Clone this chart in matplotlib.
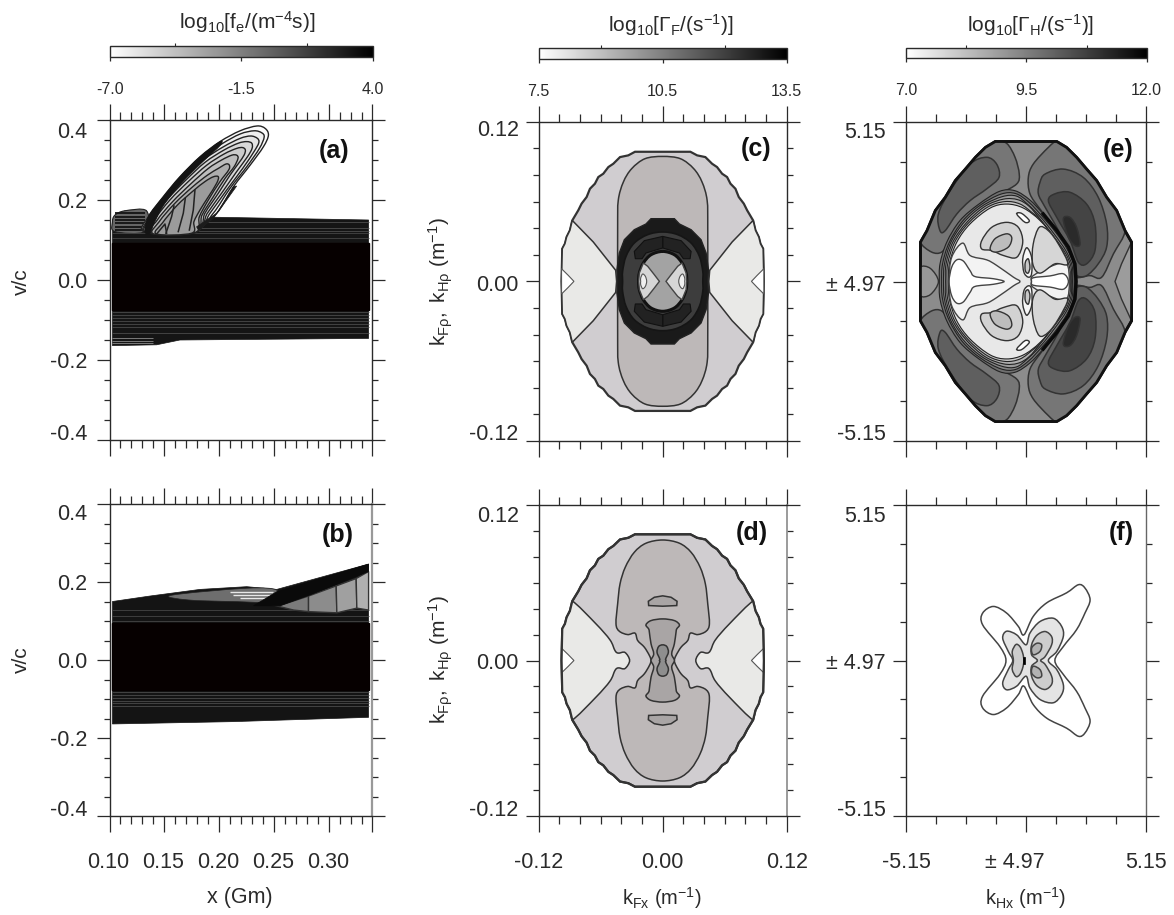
import numpy as np
import matplotlib
matplotlib.use('Agg')
from matplotlib import pyplot as plt
from matplotlib.cm import ScalarMappable
from matplotlib.colors import LinearSegmentedColormap, Normalize
from matplotlib.patches import PathPatch
from matplotlib.path import Path

plt.rcParams['font.family'] = ['Liberation Sans', 'DejaVu Sans']
plt.rcParams['mathtext.fontset'] = 'custom'
plt.rcParams['mathtext.rm'] = 'Liberation Sans'
plt.rcParams['mathtext.it'] = 'Liberation Sans:italic'
plt.rcParams['mathtext.bf'] = 'Liberation Sans:bold'
plt.rcParams['text.color'] = '#2a2a2a'

# colour bars
BAR_A = (-7.0, -1.5, 4.0)
BAR_C = (7.5, 10.5, 13.5)
BAR_E = (7.0, 9.5, 12.0)

# panel a, x in Gm and v/c
A_BAND = [(.1027, .150), (.1049, .162), (.114, .173), (.1337, .173), (.1322, .121), (.1793, .125),
          (.1945, .157), (.3359, .150), (.3359, -.146), (.1641, -.150), (.1429, -.162), (.1027, -.164)]
A_CORE = (.092, -.075)
A_SHOULDER = [(.1027, .145), (.1049, .162), (.114, .173), (.1337, .173), (.1322, .121), (.1049, .121)]
A_SHOULDER_LINES = [.167, .158, .150, .142, .133, .125]
A_TOP_LINES_LEFT = [.117, .104]
A_TOP_LINES = [.145, .130, .122]
A_BOTTOM_LINES = [-.081, -.088, -.095, -.103, -.110, -.118, -.133]
A_TAIL_LINES = [-.145, -.152, -.158]

A_BEAM = [
    [(.1322, .121), (.1353, .158), (.1489, .208), (.1641, .258), (.1824, .308), (.2006, .346), (.2189, .373),
     (.2341, .385), (.2417, .379), (.2447, .362), (.2401, .333), (.228, .287), (.2128, .233), (.1976, .167), (.1793, .133)],
    [(.1331, .119), (.1368, .158), (.1505, .208), (.1657, .256), (.1839, .305), (.2021, .340), (.2189, .365),
     (.2316, .373), (.2386, .368), (.2408, .357), (.2365, .329), (.2249, .283), (.2097, .229), (.1945, .167), (.1793, .129)],
    [(.1337, .119), (.1383, .157), (.152, .207), (.1678, .254), (.1854, .300), (.2037, .333), (.2189, .354),
     (.2286, .360), (.2347, .354), (.2359, .343), (.2316, .321), (.2213, .279), (.2067, .225), (.1915, .167), (.1793, .125)],
    [(.1353, .118), (.1398, .154), (.1535, .204), (.1696, .250), (.1869, .294), (.2043, .325), (.2173, .342),
     (.2249, .346), (.2295, .342), (.2298, .329), (.2256, .308), (.2158, .271), (.2031, .221), (.1891, .167), (.1793, .123)],
    [(.1368, .117), (.1413, .152), (.155, .200), (.1717, .246), (.1885, .287), (.2043, .315), (.2158, .329),
     (.2213, .331), (.2237, .325), (.2225, .312), (.2176, .292), (.2097, .262), (.1991, .217), (.1869, .167), (.1793, .121)],
    [(.1383, .117), (.1435, .150), (.1575, .196), (.1739, .240), (.19, .279), (.2021, .300), (.2113, .312),
     (.2158, .312), (.2170, .304), (.2134, .283), (.2052, .254), (.1945, .208), (.1842, .162), (.1787, .119)],
    [(.1404, .115), (.1453, .146), (.1596, .192), (.1757, .233), (.1891, .262), (.1991, .279), (.2061, .290),
     (.2091, .287), (.2085, .275), (.2006, .246), (.19, .200), (.1818, .158), (.1781, .119)],
    [(.1429, .115), (.1483, .143), (.1617, .187), (.1763, .223), (.1869, .246), (.1945, .258), (.1991, .258),
     (.1976, .242), (.19, .208), (.1824, .175), (.1769, .146), (.1748, .117)],
]
A_BEAM_GREYS = ['#fbfbfb', '#f0f0f0', '#e4e4e4', '#d8d8d8', '#cbcbcb', '#bdbdbd', '#adadad', '#9b9b9b']
A_WEDGE_UP = [(.1322, .121), (.1353, .158), (.1489, .208), (.1641, .258), (.1824, .308), (.2006, .346),
              (.2006, .336), (.1854, .297), (.1672, .247), (.1505, .192), (.1413, .146), (.1368, .117)]
A_WEDGE_LOW = [(.2128, .233), (.1976, .167), (.1793, .133), (.1809, .125), (.1945, .154), (.2067, .2), (.2158, .235)]
A_INNER = [
    [(.1778, .225), (.1763, .175), (.1727, .125)],
    [(.169, .204), (.1672, .167), (.1626, .121)],
    [(.1587, .185), (.1565, .158), (.1514, .117)],
    [(.1429, .115), (.1505, .140), (.152, .117)],
]

# panel b
B_BAND = [(.1027, .150), (.1368, .164), (.1824, .181), (.225, .188), (.2523, .181), (.3359, .246),
          (.3359, -.147), (.2128, -.158), (.1027, -.164)]
B_CORE = (.094, -.077)
B_TOP_LINES = [.128, .113, .100]
B_BOTTOM_LINES = [-.083, -.090, -.097, -.104, -.111, -.118]
B_PATCH = [(.1565, .166), (.225, .184), (.2523, .179), (.2432, .150), (.2128, .150), (.1717, .154)]
B_PATCH_LINES = [(.175, .2097, .2493), (.167, .2128, .2462), (.158, .2189, .2432)]
B_WEDGE = [(.2311, .139), (.2523, .175), (.3359, .246), (.3359, .227), (.2827, .167), (.2552, .139)]
B_STEPS = [
    [(.2432, .145), (.2553, .140), (.2812, .164), (.2812, .124), (.2677, .128)],
    [(.2812, .164), (.3064, .190), (.307, .121), (.2812, .124)],
    [(.3064, .190), (.3246, .209), (.3252, .133), (.307, .121)],
    [(.3246, .209), (.3359, .227), (.3359, .128), (.3252, .133)],
]
B_STEP_GREYS = ['#7b7b7b', '#8c8c8c', '#a0a0a0', '#b0b0b0']

# panels c and d, k in 1/m. quadrants are read once, the pattern is symmetric
KF_OUTER = [(0, .0974), (.0268, .0974), (.0333, .0947), (.0413, .0934), (.0478, .0884), (.0526, .0859), (.0575, .0809),
            (.0623, .0784), (.0656, .0734), (.0704, .0696), (.0736, .0634), (.0785, .0584), (.0817, .0534),
            (.0875, .0458), (.0898, .0383), (.093, .0333), (.0946, .0283), (.0972, .0245), (.0979, 0)]
KF_NOTCH = [(.0859, 0), (.0914, .0045), (.0979, .0095)]
C_SIDE = [(.0446, 0), (.0455, .0083), (.0672, .0296), (.0875, .0458), (.0898, .0383), (.093, .0333),
          (.0946, .0283), (.0972, .0245), (.0979, 0)]
C_LOBE = [(0, .0939), (.0171, .0922), (.03, .0847), (.0381, .0746), (.043, .0609), (.0436, .0408), (.0436, 0)]
C_RING_OUTER = [(0, .0471), (.0113, .0471), (.0162, .0431), (.0275, .0388), (.0371, .0313), (.042, .0213), (.0443, .0088), (.0436, 0)]
C_RING_MID = [(0, .0371), (.0145, .0351), (.0275, .0288), (.0355, .0188), (.0388, .0075), (.0388, 0)]
C_CRESCENT = [(0, .0338), (.0178, .0306), (.0275, .0225), (.0265, .017), (.02, .017), (.0162, .0213), (0, .0251)]
C_HOLE = [(0, .0225), (.0113, .02), (.0187, .0138), (.0226, .0063), (.0233, 0)]
C_HOLE_SIDE = [(.0032, 0), (.0081, .005), (.0145, .0113), (.0187, .0138), (.0226, .0063), (.0233, 0)]
C_HOLE_SPOT = [(.0155, 0), (.0168, .0038), (.0194, .0055), (.0213, .0025), (.0213, 0)]

D_SIDE = [(.032, 0), (.0365, .0062), (.043, .0057), (.0462, .0077), (.051, .0159), (.0646, .0283), (.0875, .0458),
          (.0898, .0383), (.093, .0333), (.0946, .0283), (.0972, .0245), (.0979, 0)]
D_LOBE = [(0, .093), (.0162, .0905), (.0275, .0835), (.0362, .072), (.0413, .0591), (.0436, .0437), (.0452, .0283),
          (.042, .0226), (.0339, .02), (.0268, .0211), (.0242, .0154), (.0178, .0103), (.0129, .0039), (.0113, 0)]
D_INNER = [(0, .0321), (.0113, .0308), (.0162, .0275), (.0136, .0244), (.0129, .0218), (.0113, .0129), (.0087, .0051), (.0113, 0)]
D_CORE = [(0, .0121), (.0039, .0108), (.0055, .0064), (.0029, .0013), (.0032, 0)]
D_CAP = [(0, .0499), (.0081, .0488), (.0139, .0457), (.0136, .0424), (0, .0419)]

# panels e and f, offset from the +-4.97 centre
E_OUTER = [(0, 4.52), (1.32, 4.52), (1.74, 4.33), (2.17, 4.01), (2.6, 3.63), (3.03, 3.26), (3.46, 2.72),
           (3.89, 2.29), (4.25, 1.64), (4.53, 1.27), (4.53, 0)]
E_L1 = [(-4.53, 1.27), (-4.25, 1.64), (-3.89, 2.29), (-3.46, 2.72), (-3.03, 3.26), (-2.6, 3.63), (-2.17, 4.01), (-1.74, 4.33),
        (-1.32, 4.52), (-.83, 4.46), (-.47, 4.01), (-.29, 3.47), (-.40, 3.15), (-1.12, 2.83), (-2.12, 2.40), (-2.83, 1.86),
        (-3.26, 1.32), (-3.62, .95), (-4.05, .95)]
E_L2 = [(-3.76, 2.18), (-3.26, 2.93), (-2.40, 3.79), (-1.69, 4.01), (-1.26, 3.79), (-1.16, 3.36), (-1.69, 2.99), (-2.40, 2.61),
        (-2.97, 2.18), (-3.47, 1.64), (-3.69, 1.64)]
E_LEFT_CENTRE = [(-4.53, 0), (-4.53, .46), (-4.1, .42), (-3.76, 0)]
E_RIGHT_CENTRE = [(3.82, 0), (4.10, .57), (4.53, 1.27), (4.53, 0)]
E_R1 = [(1.32, 4.52), (1.74, 4.33), (2.17, 4.01), (2.6, 3.63), (3.03, 3.26), (3.46, 2.72), (3.89, 2.29), (4.25, 1.64), (3.75, .89),
        (3.25, .14), (2.75, .19), (2.03, .19), (1.82, 1.11), (1.32, 1.65), (.60, 2.34), (.17, 2.83), (.10, 3.36), (.31, 3.79), (.96, 4.33)]
E_R2 = [(.60, 3.20), (.82, 3.47), (1.60, 3.63), (2.46, 3.36), (3.10, 2.72), (3.46, 1.86), (3.46, 1.11), (3.10, .57), (2.60, .19),
        (2.17, .19), (2.03, .46), (1.46, 1.54), (.82, 2.40), (.53, 2.83)]
E_R3 = [(.96, 2.61), (1.24, 2.83), (1.89, 2.88), (2.60, 2.50), (2.96, 1.86), (2.96, 1.0), (2.60, .57), (2.25, .62), (1.89, 1.32), (1.32, 2.07)]
E_R4 = [(1.60, 2.02), (1.89, 2.07), (2.17, 1.75), (2.32, 1.21), (2.10, 1.16), (1.82, 1.43)]
E_RINGS = [
    [(-3.72, 0), (-3.69, .57), (-3.40, 1.27), (-2.83, 1.97), (-2.04, 2.49), (-1.14, 2.91), (-.47, 2.93), (.17, 2.63), (.74, 2.18), (1.32, 1.65), (1.82, 1.11), (2.1, .57), (2.15, 0)],
    [(-3.62, 0), (-3.58, .57), (-3.3, 1.25), (-2.72, 1.95), (-1.95, 2.47), (-1.08, 2.82), (-.45, 2.84), (.12, 2.56), (.7, 2.1), (1.26, 1.6), (1.76, 1.05), (2.03, .55), (2.07, 0)],
    [(-3.54, 0), (-3.5, .57), (-3.22, 1.27), (-2.64, 1.93), (-1.85, 2.45), (-1.02, 2.74), (-.42, 2.76), (.06, 2.5), (.66, 2.05), (1.22, 1.52), (1.72, .98), (1.98, .5), (2.0, 0)],
    [(-3.46, 0), (-3.43, .57), (-3.14, 1.27), (-2.55, 1.9), (-1.75, 2.43), (-.96, 2.66), (-.35, 2.64), (.13, 2.43), (.62, 2.0), (1.18, 1.46), (1.69, .92), (1.93, .47), (1.96, 0)],
    [(-3.39, 0), (-3.36, .57), (-3.06, 1.27), (-2.48, 1.88), (-1.65, 2.4), (-.9, 2.58), (-.25, 2.5), (.3, 2.2), (.6, 2.0), (1.2, 1.42), (1.67, .85), (1.88, .42), (1.9, 0)],
    [(-3.32, 0), (-3.29, .57), (-2.97, 1.27), (-2.40, 1.86), (-1.54, 2.37), (-.83, 2.5), (-.11, 2.37), (.60, 1.97), (1.24, 1.38), (1.67, .78), (1.86, 0)],
]
E_RING_GREYS = ['#707070', '#858585', '#9a9a9a', '#b0b0b0', '#c8c8c8', '#e8e8e8']
E_RING_DARK = [(.74, 2.18), (1.32, 1.65), (1.82, 1.11), (2.1, .57), (2.15, 0)]
E_LEFT_LIGHT = [(-3.30, 0), (-3.19, .78), (-2.72, 1.24), (-2.40, .84), (-1.69, .70), (-1.26, .52), (-.54, .14), (-.26, 0)]
E_LEFT_WHITE = [(-3.30, 0), (-3.19, .46), (-2.97, .70), (-2.69, .66), (-2.40, .35), (-2.19, .16), (-1.40, .09), (-.94, 0)]
E_RIGHT_LIGHT = [(.24, 0), (.31, .19), (1.17, .52), (1.74, .57), (1.86, 0)]
E_RIGHT_WHITE = [(.24, 0), (.31, .12), (1.03, .18), (1.60, .25), (1.82, 0)]
E_BLOB = [(-1.90, 1.32), (-1.47, 1.75), (-.83, 1.91), (-.33, 1.75), (-.14, 1.27), (-.40, .78), (-.97, .84), (-1.47, 1.0), (-1.90, 1.05)]
E_BLOB_CORE = [(-1.54, 1.05), (-1.33, 1.38), (-.83, 1.54), (-.61, 1.41), (-.76, 1.11), (-1.26, .95)]
E_RIGHT_GREY = [(.57, 1.75), (.31, 1.21), (.29, .57), (.60, .27), (1.24, .57), (1.79, .57), (1.39, 1.21), (.96, 1.64)]
E_LOOP = [(-.14, .73), (.03, 1.09), (.24, .78), (.24, .25), (.10, .14), (-.09, .30)]
E_LOOP_IN = [(-.03, .62), (.10, .73), (.17, .46), (.09, .27), (-.03, .35)]
E_SPOT = [(-.40, 2.18), (-.19, 2.20), (.14, 1.97), (-.04, 1.91)]

F_OUTER = [(-.86, 0), (-1.12, .46), (-1.86, 1.18), (-1.86, 1.57), (-1.40, 1.79), (-.83, 1.57), (-.33, 1.13), (-.09, .85), (.31, 1.46),
           (.89, 1.91), (1.74, 2.24), (2.25, 2.51), (2.53, 2.40), (2.75, 2.01), (2.53, 1.57), (2.17, 1.02), (1.60, .46), (1.24, 0)]
F_SECOND = [(-.57, 0), (-.76, .30), (-1.0, .74), (-.83, .97), (-.40, .85), (0, .52), (.17, .91), (.60, 1.29), (1.17, 1.40),
            (1.53, 1.13), (1.60, .79), (1.32, .30), (.96, 0)]
F_THIRD_LEFT = [(-.54, 0), (-.59, .30), (-.43, .53), (-.26, .46), (-.14, .24), (-.09, 0)]
F_THIRD_RIGHT = [(.49, 0), (.24, .19), (.24, .52), (.46, .83), (.82, .96), (1.10, .79), (1.10, .52), (.82, .13), (.63, 0)]
F_FOURTH = [(.24, .41), (.46, .57), (.67, .52), (.60, .30), (.31, .19)]
F_DOT = [(-.14, .11), (-.04, .11), (-.04, -.11), (-.14, -.11)]

W, H = 1174, 915
fig = plt.figure(figsize=(W / 100, H / 100), dpi=100)
INK = '#2a2a2a'


def new_axes(left, right, top, bottom):
    return fig.add_axes([left / W, 1 - bottom / H, (right - left) / W, (bottom - top) / H])


def half_y(pts):
    return list(pts) + [(x, -y) for x, y in reversed(pts)]


def flip_x(pts):
    return [(-x, y) for x, y in pts]


def flip_y(pts):
    return [(x, -y) for x, y in pts]


def four(quad):
    right = half_y(quad)
    return right + [(-x, y) for x, y in reversed(right)]


def both_sides(pts):
    # top half of a shape sitting on the x axis, drawn left and right
    return [half_y(pts), flip_x(half_y(pts))]


def curve_path(pts):
    keep = [pts[0]]
    for p in pts[1:]:
        if p != keep[-1]:
            keep.append(p)
    if keep[-1] == keep[0]:
        keep.pop()
    p = np.array(keep, dtype=float)
    n = len(p)
    verts = [p[0]]
    codes = [Path.MOVETO]
    for i in range(n):
        p0, p1, p2, p3 = p[i - 1], p[i], p[(i + 1) % n], p[(i + 2) % n]
        verts += [p1 + (p2 - p0) / 6, p2 - (p3 - p1) / 6, p2]
        codes += [Path.CURVE4] * 3
    return Path(verts, codes)


def shape(ax, pts, face, edge='#333333', lw=1.2, zorder=2, round=False, clip=None):
    if round:
        path = curve_path(pts)
    else:
        path = Path(list(pts) + [pts[0]], closed=True)
    patch = PathPatch(path, facecolor=face, edgecolor=edge, lw=lw, zorder=zorder)
    ax.add_patch(patch)
    if clip is not None:
        patch.set_clip_path(clip)
    return patch


def line(ax, pts, color='#222222', lw=1.0, zorder=3):
    ax.plot(*zip(*pts), color=color, lw=lw, zorder=zorder)


def style_axes(ax, xlim, ylim, xmajor, xminor, ymajor, yminor, right_color=INK, right_lw=1.0):
    ax.set_xlim(*xlim)
    ax.set_ylim(*ylim)
    ax.set_xticks(xmajor)
    ax.set_xticks(xminor, minor=True)
    ax.set_yticks(ymajor)
    ax.set_yticks(yminor, minor=True)
    ax.tick_params(which='both', top=True, right=True, labelleft=False, labelbottom=False, color=INK, width=0.9)
    ax.tick_params(axis='x', which='major', length=11.5)
    ax.tick_params(axis='x', which='minor', length=6)
    ax.tick_params(axis='y', which='major', length=9.5)
    ax.tick_params(axis='y', which='minor', length=4.3)
    for side in ax.spines.values():
        side.set_color(INK)
        side.set_linewidth(1.0)
        side.set_zorder(10)
    ax.spines['right'].set_color(right_color)
    ax.spines['right'].set_linewidth(right_lw)


def y_text(ax, val, txt, dy, dx=20):
    ax.annotate(txt, xy=(0, val), xycoords=ax.get_yaxis_transform(), xytext=(-dx, -dy), textcoords='offset pixels',
                ha='right', va='center', fontsize=15.5)


def x_text(ax, val, txt, dx=0):
    ax.annotate(txt, xy=(val, 0), xycoords=ax.get_xaxis_transform(), xytext=(dx, -47), textcoords='offset pixels',
                ha='center', va='center', fontsize=15.5)


def add_bar(left, right, top, bottom, vals, title, title_x, title_y):
    cax = new_axes(left, right, top, bottom)
    cmap = LinearSegmentedColormap.from_list('bar', ['#ffffff', '#000000'])
    sm = ScalarMappable(norm=Normalize(vals[0], vals[2]), cmap=cmap)
    cbar = fig.colorbar(sm, cax=cax, orientation='horizontal')
    cbar.outline.set_linewidth(1.0)
    cbar.outline.set_edgecolor(INK)
    cbar.set_ticks(list(vals))
    cbar.set_ticklabels(['%.1f' % v for v in vals])
    cax.tick_params(which='major', length=3, width=0.9, labelsize=11.5, pad=15, color=INK, labelcolor=INK)
    cax.set_xticks([(vals[0] + vals[1]) / 2, (vals[1] + vals[2]) / 2], minor=True)
    cax.tick_params(which='minor', length=2, width=0.8, top=True, bottom=False, color=INK)
    fig.text(title_x / W, 1 - title_y / H, title, ha='center', va='center', fontsize=15)


def bold_tag(ax, x, y, txt):
    ax.text(x, y, txt, transform=ax.transAxes, ha='center', va='center', fontsize=18, fontweight='bold', color='#111111', zorder=12)


x_major = [.10, .15, .20, .25, .30, .339]
x_minor = np.arange(.10, .335, .01)
v_major = [-.4, -.2, 0, .2, .4]
v_minor = np.arange(-.4, .41, .05)
kf_major = [-.12, 0, .12]
kf_minor = np.arange(-.12, .121, .02)
kh_major = [-5.15, 0, 5.15]
kh_minor = np.arange(-5.15, 5.16, 1.2875)
ylabel_k = r'$\mathrm{k_{F\rho},\ k_{H\rho}\ (m^{-1})}$'

# panel a
ax = new_axes(109.5, 372, 120, 440)
style_axes(ax, (.10, .339), (-.4, .4), x_major, x_minor, v_major, v_minor)
shape(ax, A_BAND, '#151515', edge='#151515', lw=0.5)
ax.axhspan(A_CORE[1], A_CORE[0], xmin=(.1027 - .10) / .239, xmax=(.3359 - .10) / .239, color='#060000', zorder=3)
shape(ax, A_SHOULDER, '#666666', edge='#222222', lw=0.8, zorder=3, round=True)
ax.hlines(A_SHOULDER_LINES, .1049, .1325, colors='#141414', lw=1.3, zorder=4)
ax.hlines(A_TOP_LINES, .18, .3359, colors='#4c4c4c', lw=0.6, zorder=4)
ax.hlines(A_TOP_LINES_LEFT, .1027, .3359, colors='#464646', lw=0.6, zorder=4)
ax.hlines(A_BOTTOM_LINES, .1027, .3359, colors='#4a4a4a', lw=0.6, zorder=4)
ax.hlines(A_TAIL_LINES, .1027, .14, colors='#8a8a8a', lw=0.6, zorder=4)
for pts, grey in zip(A_BEAM, A_BEAM_GREYS):
    shape(ax, pts, grey, edge='#222222', lw=1.0, zorder=5, round=True)
shape(ax, A_WEDGE_UP, '#141414', edge='#141414', lw=0.5, zorder=6, round=True)
shape(ax, A_WEDGE_LOW, '#1c1c1c', edge='#1c1c1c', lw=0.5, zorder=6)
for pts in A_INNER:
    line(ax, pts, lw=1.1, zorder=6)
for val, txt, dy in [(.4, '0.4', 12), (.2, '0.2', 2), (0, '0.0', 3), (-.2, '-0.2', 3), (-.4, '-0.4', -6)]:
    y_text(ax, val, txt, dy, dx=22)
fig.text(21 / W, 1 - 282 / H, 'v/c', rotation=90, ha='center', va='center', fontsize=15)
bold_tag(ax, .855, .903, '(a)')

# panel b
ax = new_axes(109.5, 372, 504, 816)
style_axes(ax, (.10, .339), (-.4, .4), x_major, x_minor, v_major, v_minor, right_color='#999999', right_lw=1.6)
shape(ax, B_BAND, '#141414', edge='#141414', lw=0.5)
ax.axhspan(B_CORE[1], B_CORE[0], xmin=(.1027 - .10) / .239, xmax=(.3359 - .10) / .239, color='#060000', zorder=3)
ax.hlines(B_TOP_LINES, .1027, .3359, colors='#464646', lw=0.6, zorder=4)
ax.hlines(B_BOTTOM_LINES, .1027, .3359, colors='#4a4a4a', lw=0.6, zorder=4)
shape(ax, B_PATCH, '#6e6e6e', edge='#222222', lw=0.5, zorder=4, round=True)
for y, x0, x1 in B_PATCH_LINES:
    ax.hlines(y, x0, x1, colors='#e8e8e8', lw=1.0, zorder=5)
for pts, grey in zip(B_STEPS, B_STEP_GREYS):
    shape(ax, pts, grey, edge='#333333', lw=1.0, zorder=5)
shape(ax, B_WEDGE, '#0a0a0a', edge='#0a0a0a', lw=0.5, zorder=6)
for val, txt, dy in [(.4, '0.4', 11), (.2, '0.2', 2), (0, '0.0', 2), (-.2, '-0.2', 3), (-.4, '-0.4', -6)]:
    y_text(ax, val, txt, dy, dx=22)
for val, txt in zip(x_major[:5], ['0.10', '0.15', '0.20', '0.25', '0.30']):
    x_text(ax, val, txt, dx=-1)
fig.text(21 / W, 1 - 660 / H, 'v/c', rotation=90, ha='center', va='center', fontsize=15)
fig.text(240 / W, 1 - 897 / H, 'x (Gm)', ha='center', va='center', fontsize=15.5)
bold_tag(ax, .870, .90, '(b)')

# panel c
ax = new_axes(538.7, 786.7, 121.7, 441)
style_axes(ax, (-.12, .12), (-.12, .12), kf_major, kf_minor, kf_major, kf_minor)
shape(ax, four(KF_OUTER), '#d0cdd0', edge='#333333', lw=1.6)
for pts in both_sides(C_SIDE):
    shape(ax, pts, '#e9e9e7', lw=1.1)
for pts in both_sides(KF_NOTCH):
    shape(ax, pts, '#ffffff', edge='#555555', lw=0.8)
shape(ax, four(C_LOBE), '#bdb8b8', lw=1.1, round=True)
shape(ax, four(C_RING_OUTER), '#1a1a1a', edge='#222222', lw=1.0, zorder=3)
shape(ax, four(C_RING_MID), '#3d3d3d', edge='#151515', lw=1.2, zorder=3, round=True)
for pts in [C_CRESCENT, flip_x(C_CRESCENT), flip_y(C_CRESCENT), flip_y(flip_x(C_CRESCENT))]:
    shape(ax, pts, '#222222', edge='#111111', lw=0.8, zorder=4)
shape(ax, four(C_HOLE), '#a3a3a3', edge='#111111', lw=2.2, zorder=4, round=True)
for pts in both_sides(C_HOLE_SIDE):
    shape(ax, pts, '#d6d6d6', edge='#444444', lw=1.0, zorder=5)
for pts in both_sides(C_HOLE_SPOT):
    shape(ax, pts, '#f0f0f0', edge='#555555', lw=0.8, zorder=5, round=True)
for val, txt, dy in [(.12, '0.12', 9), (0, '0.00', 4), (-.12, '-0.12', -6)]:
    y_text(ax, val, txt, dy)
fig.text(441 / W, 1 - 282 / H, ylabel_k, rotation=90, ha='center', va='center', fontsize=15)
bold_tag(ax, .876, .914, '(c)')

# panel d
ax = new_axes(538.7, 786.7, 505, 816)
style_axes(ax, (-.12, .12), (-.12, .12), kf_major, kf_minor, kf_major, kf_minor, right_color='#8a8a8a', right_lw=1.2)
outer = shape(ax, four(KF_OUTER), '#d0cdd0', edge='#333333', lw=1.6)
for pts in both_sides(D_SIDE):
    shape(ax, pts, '#e9e9e7', lw=1.1, round=True, clip=outer)
for pts in both_sides(KF_NOTCH):
    shape(ax, pts, '#ffffff', edge='#555555', lw=0.8)
shape(ax, four(D_LOBE), '#bdb8b8', lw=1.1, zorder=3, round=True)
shape(ax, four(D_INNER), '#a9a5a5', lw=1.1, zorder=4, round=True)
shape(ax, four(D_CORE), '#8e8e8e', lw=1.1, zorder=5, round=True)
shape(ax, D_CAP + [(-x, y) for x, y in reversed(D_CAP)], '#a9a5a5', lw=1.1, zorder=4)
shape(ax, flip_y(D_CAP) + [(-x, -y) for x, y in reversed(D_CAP)], '#a9a5a5', lw=1.1, zorder=4)
shape(ax, four(KF_OUTER), 'none', edge='#333333', lw=1.6, zorder=6)
for val, txt, dy in [(.12, '0.12', 11), (0, '0.00', 3), (-.12, '-0.12', -6)]:
    y_text(ax, val, txt, dy)
for val, txt in zip(kf_major, ['-0.12', '0.00', '0.12']):
    x_text(ax, val, txt)
fig.text(441 / W, 1 - 660 / H, ylabel_k, rotation=90, ha='center', va='center', fontsize=15)
fig.text(662 / W, 1 - 898 / H, r'$\mathrm{k_{Fx}\ (m^{-1})}$', ha='center', va='center', fontsize=14.5)
bold_tag(ax, .86, .91, '(d)')

# panel e
ax = new_axes(906, 1146, 122, 441)
style_axes(ax, (-5.15, 5.15), (-5.15, 5.15), kh_major, kh_minor, kh_major, kh_minor)
outer = shape(ax, four(E_OUTER), '#8c8c8c', edge='#111111', lw=2.0, zorder=2)
for pts in [E_L1, E_R1]:
    shape(ax, pts, '#767676', lw=1.1, round=True, clip=outer)
    shape(ax, flip_y(pts), '#767676', lw=1.1, round=True, clip=outer)
shape(ax, half_y(E_LEFT_CENTRE), '#989898', lw=1.0, round=True, clip=outer)
shape(ax, half_y(E_RIGHT_CENTRE), '#9c9c9c', lw=1.0, clip=outer)
for pts, grey in [(E_L2, '#5f5f5f'), (E_R2, '#5f5f5f'), (E_R3, '#444444'), (E_R4, '#2a2a2a')]:
    shape(ax, pts, grey, lw=1.1, zorder=3, round=True)
    shape(ax, flip_y(pts), grey, lw=1.1, zorder=3, round=True)
for pts, grey in zip(E_RINGS, E_RING_GREYS):
    shape(ax, half_y(pts), grey, edge='#222222', lw=0.8, zorder=4, round=True)
line(ax, half_y(E_RING_DARK), color='#0a0a0a', lw=2.5, zorder=5)
for pts, grey in [(E_LEFT_LIGHT, '#f3f3f3'), (E_LEFT_WHITE, '#ffffff'), (E_RIGHT_LIGHT, '#f3f3f3'), (E_RIGHT_WHITE, '#ffffff')]:
    shape(ax, half_y(pts), grey, edge='#444444', lw=1.0, zorder=5, round=True)
for pts, grey in [(E_BLOB, '#d2d2d2'), (E_BLOB_CORE, '#bdbdbd'), (E_RIGHT_GREY, '#d6d6d6'), (E_LOOP, '#f6f6f6'),
                  (E_LOOP_IN, '#c8c8c8'), (E_SPOT, '#ffffff')]:
    shape(ax, pts, grey, edge='#333333', lw=1.0, zorder=6, round=True)
    shape(ax, flip_y(pts), grey, edge='#333333', lw=1.0, zorder=6, round=True)
shape(ax, four(E_OUTER), 'none', edge='#111111', lw=2.0, zorder=7)
for val, txt, dy in [(5.15, '5.15', 11), (0, '± 4.97', 4), (-5.15, '-5.15', -6)]:
    y_text(ax, val, txt, dy)
bold_tag(ax, .883, .912, '(e)')

# panel f
ax = new_axes(906, 1146, 505, 816)
style_axes(ax, (-5.15, 5.15), (-5.15, 5.15), kh_major, kh_minor, kh_major, kh_minor, right_color='#666666')
shape(ax, half_y(F_OUTER), '#ffffff', edge='#444444', lw=1.1, round=True)
shape(ax, half_y(F_SECOND), '#e4e4e4', edge='#444444', lw=1.1, round=True)
shape(ax, half_y(F_THIRD_LEFT), '#cdcdcd', edge='#444444', lw=1.1, round=True)
shape(ax, half_y(F_THIRD_RIGHT), '#cdcdcd', edge='#444444', lw=1.1, round=True)
shape(ax, F_FOURTH, '#b2b2b2', edge='#444444', lw=1.1, zorder=3, round=True)
shape(ax, flip_y(F_FOURTH), '#b2b2b2', edge='#444444', lw=1.1, zorder=3, round=True)
shape(ax, F_DOT, '#000000', edge='#000000', lw=0.5, zorder=4)
for val, txt, dy in [(5.15, '5.15', 11), (0, '± 4.97', 3), (-5.15, '-5.15', -6)]:
    y_text(ax, val, txt, dy)
for val, txt, dx in [(-5.15, '-5.15', 0), (0, '± 4.97', -11), (5.15, '5.15', 0)]:
    x_text(ax, val, txt, dx)
fig.text(1026 / W, 1 - 898 / H, r'$\mathrm{k_{Hx}\ (m^{-1})}$', ha='center', va='center', fontsize=14.5)
bold_tag(ax, .896, .91, '(f)')

# colour bars along the top
add_bar(109.7, 372.7, 46, 57, BAR_A, r'$\mathrm{log_{10}[f_e/(m^{-4}s)]}$', 247, 22)
add_bar(538.7, 786.7, 48, 59, BAR_C, r'$\mathrm{log_{10}[\Gamma_F/(s^{-1})]}$', 671, 25)
add_bar(906, 1146.7, 48, 58, BAR_E, r'$\mathrm{log_{10}[\Gamma_{H}/(s^{-1})]}$', 1031, 25)

fig.savefig('out.png', dpi=100)
